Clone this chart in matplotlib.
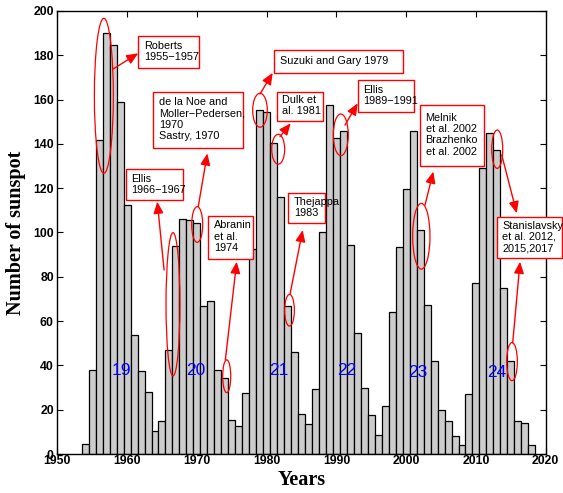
import matplotlib
matplotlib.use('Agg')
import matplotlib.pyplot as plt
from matplotlib.patches import Ellipse, Rectangle, FancyArrowPatch

# ---- data ----
years = list(range(1954, 2019))
sunspots = [4.4, 38.0, 141.7, 190.2, 184.8, 159.0, 112.3, 53.9, 37.6, 27.9,
            10.2, 15.1, 47.0, 93.8, 105.9, 105.5, 104.5, 66.6, 68.9, 38.0,
            34.5, 15.5, 12.6, 27.5, 92.5, 155.4, 154.6, 140.4, 115.9, 66.6,
            45.9, 17.9, 13.4, 29.4, 100.2, 157.6, 142.6, 145.7, 94.3, 54.6,
            29.9, 17.5, 8.6, 21.5, 64.3, 93.3, 119.6, 146.0, 101.1, 67.3,
            42.1, 19.9, 15.0, 8.1, 4.1, 27.1, 77.0, 129.0, 145.1, 137.1,
            75.1, 42.1, 15.0, 13.8, 4.1]

cycle_labels = ["19", "20", "21", "22", "23", "24"]
cycle_x = [1959.2, 1969.9, 1981.7, 1991.5, 2001.6, 2013.0]
cycle_y = [37.5, 37.5, 37.5, 37.5, 37.0, 37.0]

box_texts = ["Roberts\n1955\u22121957",
             "de la Noe and\nMoller\u2212Pedersen,\n1970\nSastry, 1970",
             "Ellis\n1966\u22121967",
             "Abranin\net al.\n1974",
             "Suzuki and Gary 1979",
             "Dulk et\nal. 1981",
             "Thejappa\n1983",
             "Ellis\n1989\u22121991",
             "Melnik\net al. 2002\nBrazhenko\net al. 2002",
             "Stanislavsky\net al. 2012,\n2015,2017"]
# (left, right, bottom, top) in data units
box_extent = [(1961.6, 1970.35, 174.1, 188.9),
              (1963.76, 1976.66, 138.3, 163.6),
              (1959.85, 1968.0, 114.5, 128.5),
              (1971.64, 1978.1, 88.0, 107.6),
              (1981.06, 1999.6, 172.1, 182.4),
              (1981.45, 1988.13, 150.3, 163.6),
              (1983.1, 1988.4, 104.2, 117.7),
              (1993.05, 2001.1, 154.5, 168.8),
              (2001.99, 2011.16, 130.0, 157.6),
              (2012.98, 2022.3, 88.3, 107.1)]
# (cx, cy, width, height)
ellipses = [(1956.67, 161.7, 2.72, 70.0),
            (1970.05, 103.6, 1.58, 16.1),
            (1966.58, 67.6, 2.0, 64.7),
            (1974.28, 35.1, 1.15, 14.8),
            (1979.05, 155.2, 2.1, 15.3),
            (1981.66, 137.6, 1.86, 13.5),
            (1983.28, 64.9, 1.39, 14.3),
            (1990.63, 144.1, 2.15, 18.8),
            (2002.17, 98.3, 2.48, 29.7),
            (2013.05, 137.6, 1.58, 17.3),
            (2015.17, 41.7, 1.53, 17.2)]
# (x0, y0, x1, y1)
arrows = [(1957.94, 173.7, 1961.6, 180.9),
          (1970.2, 111.7, 1971.5, 135.7),
          (1965.3, 83.1, 1964.33, 113.9),
          (1974.08, 42.4, 1975.71, 86.8),
          (1979.05, 162.5, 1980.87, 172.1),
          (1981.92, 143.3, 1983.45, 149.3),
          (1983.35, 72.1, 1985.17, 101.1),
          (1991.23, 148.5, 1993.05, 158.3),
          (2002.7, 112.4, 2003.89, 127.5),
          (2013.7, 135.0, 2015.85, 108.7),
          (2015.27, 50.2, 2016.32, 86.8)]

# ---- figure ----
fig = plt.figure(figsize=(5.63, 4.93), dpi=100)
ax = fig.add_axes([0.1018, 0.0791, 0.8675, 0.8986])

ax.bar(years, sunspots, width=1.0, color='#cccccc', edgecolor='black',
       linewidth=0.9, zorder=2)

ax.set_xlim(1950, 2020)
ax.set_ylim(0, 200)
ax.set_xticks(range(1950, 2021, 10))
ax.set_yticks(range(0, 201, 20))
ax.tick_params(direction='in', top=True, right=True, length=4, width=0.8,
               labelsize=8.8)
ax.tick_params(axis='x', pad=0.8)
ax.tick_params(axis='y', pad=2.5)
for lab in ax.get_xticklabels() + ax.get_yticklabels():
    lab.set_fontfamily('Liberation Sans')
    lab.set_fontweight('bold')
for sp in ax.spines.values():
    sp.set_linewidth(1.0)

ax.set_xlabel('Years', fontfamily='Liberation Serif', fontweight='bold',
              fontsize=14.5, labelpad=2)
ax.set_ylabel('Number of sunspot', fontfamily='Liberation Serif',
              fontweight='bold', fontsize=14.5, labelpad=5)

red = '#ff0000'
for (l, r, b, t), txt in zip(box_extent, box_texts):
    ax.add_patch(Rectangle((l, b), r - l, t - b, fill=True, facecolor='white',
                           edgecolor=red, linewidth=1.0, clip_on=False, zorder=5))
    ax.annotate(txt, xy=(l, (b + t) / 2), xytext=(4, 0.5),
                textcoords='offset points', va='center', ha='left',
                fontsize=7.8, fontfamily='Liberation Sans', linespacing=1.15,
                zorder=6, annotation_clip=False)

for cx, cy, w, h in ellipses:
    ax.add_patch(Ellipse((cx, cy), w, h, fill=False, edgecolor=red,
                         linewidth=0.9, zorder=4))

for x0, y0, x1, y1 in arrows:
    ax.add_patch(FancyArrowPatch((x0, y0), (x1, y1),
                                 arrowstyle='-|>,head_length=7,head_width=3',
                                 mutation_scale=1, color=red, linewidth=1.0,
                                 shrinkA=0, shrinkB=0, zorder=4, clip_on=False))

for lab, x, y in zip(cycle_labels, cycle_x, cycle_y):
    ax.text(x, y, lab, color='blue', fontsize=12.5,
            fontfamily='Liberation Sans', ha='center', va='center', zorder=6)

fig.savefig('out.png', dpi=100)
